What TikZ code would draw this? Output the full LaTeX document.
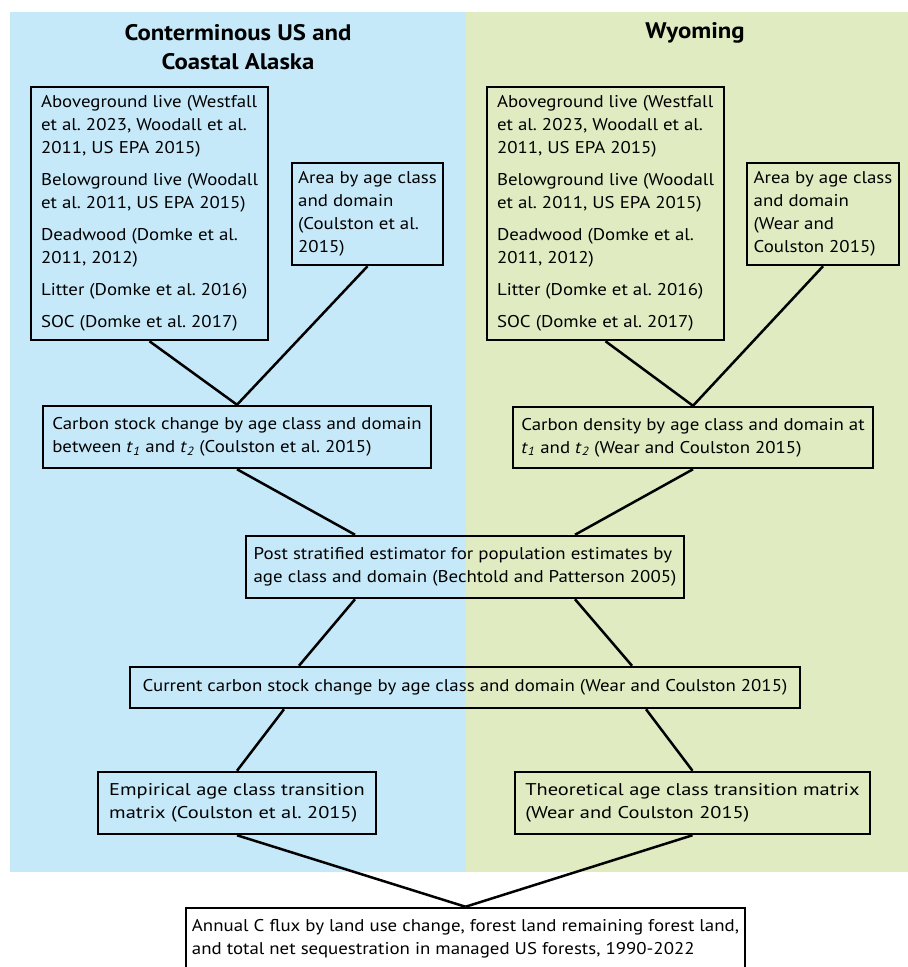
\documentclass[tikz,border=0pt]{standalone}
\usepackage{fontspec}
\setmainfont{PT Sans}
\newfontfamily\boxfont[FakeStretch=1.11]{PT Sans}
\newfontfamily\widefont[FakeStretch=1.2]{PT Sans}
\newfontfamily\headfont[FakeStretch=1.1]{PT Sans}
\definecolor{usblue}{RGB}{198,233,250}
\definecolor{wygreen}{RGB}{224,235,194}
\newcommand{\tsub}[1]{\textit{t}\textsubscript{\textit{#1}}}
\frenchspacing

\begin{document}
\begin{tikzpicture}[x=1pt,y=-1pt,line width=2.5pt,
    box/.style={draw,align=left,inner xsep=0pt,inner ysep=3pt,
                font=\boxfont\fontsize{17}{23}\selectfont},
    wbox/.style={box,font=\widefont\fontsize{17}{23}\selectfont},
    head/.style={align=center,font=\headfont\bfseries\fontsize{22.5}{29}\selectfont}]
  \useasboundingbox (0,0) rectangle (908,967);
  \fill[usblue]  (10,12)  rectangle (466,872);
  \fill[wygreen] (466,12) rectangle (908,872);

  \node[head] (lhead) at (238,47.5) {Conterminous US and\\Coastal Alaska};
  \node[head] (rhead) at (695,33)   {Wyoming};

  \node[box,minimum width=237pt,minimum height=253pt] (lagl) at (149.5,213.5)
    {Aboveground live (Westfall\\et al. 2023, Woodall et al.\\2011, US EPA 2015)\\[9pt]
     Belowground live (Woodall\\et al. 2011, US EPA 2015)\\[9pt]
     Deadwood (Domke et al.\\2011, 2012)\\[9pt]
     Litter (Domke et al. 2016)\\[9pt]
     SOC (Domke et al. 2017)};
  \node[box,minimum width=151pt,minimum height=102pt] (larea) at (367.5,214)
    {Area by age class\\and domain\\(Coulston et al.\\2015)};
  \node[box,minimum width=388pt,minimum height=62pt] (lstock) at (237,437)
    {Carbon stock change by age class and domain\\between \tsub{1} and \tsub{2} (Coulston et al. 2015)};

  \node[box,minimum width=237pt,minimum height=253pt] (ragl) at (605.5,213.5)
    {Aboveground live (Westfall\\et al. 2023, Woodall et al.\\2011, US EPA 2015)\\[9pt]
     Belowground live (Woodall\\et al. 2011, US EPA 2015)\\[9pt]
     Deadwood (Domke et al.\\2011, 2012)\\[9pt]
     Litter (Domke et al. 2016)\\[9pt]
     SOC (Domke et al. 2017)};
  \node[box,minimum width=152pt,minimum height=102pt] (rarea) at (823,214)
    {Area by age class\\and domain\\(Wear and\\Coulston 2015)};
  \node[box,minimum width=360pt,minimum height=61pt] (rdens) at (693,437.5)
    {Carbon density by age class and domain at\\\tsub{1} and \tsub{2} (Wear and Coulston 2015)};

  \node[box,minimum width=438pt,minimum height=62pt] (post) at (465,567)
    {Post stratified estimator for population estimates by\\age class and domain (Bechtold and Patterson 2005)};
  \node[box,minimum width=670pt,minimum height=41pt] (cur) at (465,687.5)
    {Current carbon stock change by age class and domain (Wear and Coulston 2015)};
  \node[wbox,minimum width=278pt,minimum height=62pt] (emp) at (237,803)
    {Empirical age class transition\\matrix (Coulston et al. 2015)};
  \node[wbox,minimum width=355pt,minimum height=62pt] (theo) at (692.5,803)
    {Theoretical age class transition matrix\\(Wear and Coulston 2015)};
  \node[box,minimum width=559pt,minimum height=62pt] (ann) at (465.5,939)
    {Annual C flux by land use change, forest land remaining forest land,\\and total net sequestration in managed US forests, 1990-2022};

  \path (lagl.south)  edge (lstock.north)
        (larea.south) edge (lstock.north)
        (ragl.south)  edge (rdens.north)
        (rarea.south) edge (rdens.north)
        (lstock.south) edge ([xshift=-110pt]post.north)
        (rdens.south)  edge ([xshift=110pt]post.north)
        ([xshift=-110pt]post.south) edge ([xshift=-166pt]cur.north)
        ([xshift=110pt]post.south)  edge ([xshift=167pt]cur.north)
        ([xshift=-181pt]cur.south)  edge (emp.north)
        ([xshift=181pt]cur.south)   edge (theo.north)
        (emp.south)  edge (ann.north)
        (theo.south) edge (ann.north)
        ;
\end{tikzpicture}
\end{document}
